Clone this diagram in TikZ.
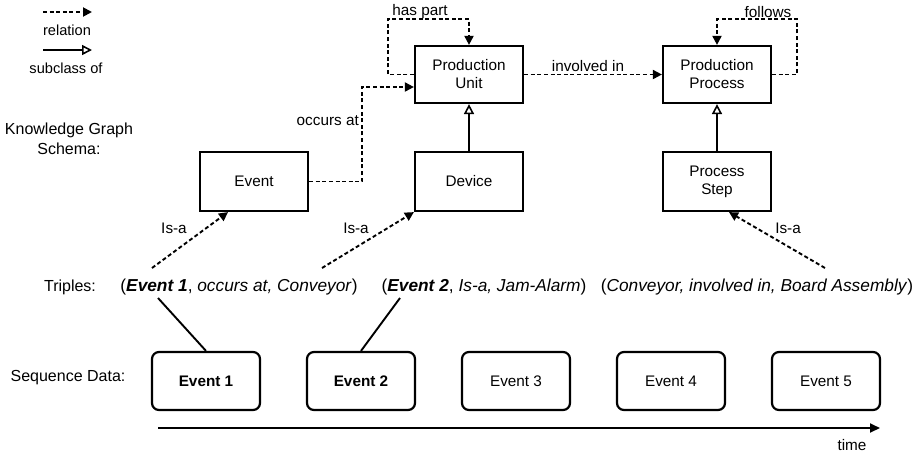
\documentclass[tikz,border=0pt]{standalone}
\usepackage{fontspec}
\setmainfont{Liberation Sans}
\usetikzlibrary{arrows.meta}
\begin{document}
\begin{tikzpicture}[x=1pt,y=-1pt,
  every node/.style={font=\fontsize{15.3}{18}\selectfont, inner sep=0pt},
  kbox/.style={draw, line width=2.2pt, minimum width=108pt, minimum height=57pt, align=center},
  sbox/.style={draw, line width=2.2pt, rounded corners=7pt, minimum width=108pt, minimum height=58pt},
  rel/.style={line width=1.9pt, dash pattern=on 4pt off 2.6pt, -{Triangle[length=9pt,width=9pt]}},
  sub/.style={line width=2pt, -{Triangle[open,length=10pt,width=10pt,line width=1.6pt]}},
  plain/.style={line width=1.9pt},
  leg/.style={font=\fontsize{14.6}{18}\selectfont},
  lbl/.style={font=\fontsize{15.3}{18}\selectfont},
  row/.style={font=\fontsize{16}{20}\selectfont},
  trip/.style={font=\fontsize{17.3}{20}\selectfont}
]
\useasboundingbox (0,0) rectangle (916,453);

% legend
\coordinate (l1a) at (43,12); \coordinate (l1b) at (92,12);
\coordinate (l2a) at (43,50); \coordinate (l2b) at (92,50);
\draw[rel] (l1a) -- (l1b);
\draw[sub] (l2a) -- (l2b);
\node[leg] (lrel) at (67,30) {relation};
\node[leg] (lsub) at (66,68) {subclass of};

% row labels
\node[row, align=center] (lkg) at (69,139) {Knowledge Graph\\Schema:};
\node[row] (ltr) at (70,287) {Triples:};
\node[row] (lsq) at (68,378) {Sequence Data:};

% schema boxes
\node[kbox] (pu) at (469,74.5) {Production\\Unit};
\node[kbox] (pp) at (717,74.5) {Production\\Process};
\node[kbox, minimum height=59pt] (ev) at (254,181.5) {Event};
\node[kbox, minimum height=59pt] (dev) at (469,181.5) {Device};
\node[kbox, minimum height=59pt] (ps) at (717,181.5) {Process\\Step};

% relations
\coordinate (hp) at (388,19);
\draw[rel] (pu.west) -| (hp) -| (pu.north);
\node[lbl] (lhp) at (420,12) {has part};
\coordinate (fl) at (797,19);
\draw[rel] (pp.east) -| (fl) -| (pp.north);
\node[lbl] (lfl) at (768,12) {follows};
\draw[rel] (pu.east) -- (pp.west);
\node[lbl] (lin) at (588,66) {involved in};
\coordinate (oc) at (362,87);
\draw[rel] (ev.east) -| (oc) -- ([yshift=-12.5pt]pu.west);
\node[lbl, anchor=east] (loc) at (359,121) {occurs at};

\draw[sub] (dev.north) -- (pu.south);
\draw[sub] (ps.north) -- (pp.south);

% triples
\node[trip] (t1) at (239,287) {(\textbf{\textit{Event 1}}, \textit{occurs at, Conveyor})};
\node[trip] (t2) at (484,287) {(\textbf{\textit{Event 2}}, \textit{Is-a, Jam-Alarm})};
\node[trip] (t3) at (757,287) {(\textit{Conveyor, involved in, Board Assembly})};

% is-a arrows
\coordinate (i1) at (152,268);
\coordinate (i2) at (322,268);
\coordinate (i3) at (825,268);
\draw[rel] (i1) -- ([xshift=-26pt]ev.south);
\draw[rel] (i2) -- (dev.south west);
\draw[rel] (i3) -- ([xshift=12pt]ps.south);
\node[lbl] (li1) at (174,228) {Is-a};
\node[lbl] (li2) at (356,228) {Is-a};
\node[lbl] (li3) at (788,228) {Is-a};

% sequence boxes
\node[sbox] (s1) at (206,381) {\textbf{Event 1}};
\node[sbox] (s2) at (361,381) {\textbf{Event 2}};
\node[sbox] (s3) at (516,381) {Event 3};
\node[sbox] (s4) at (671,381) {Event 4};
\node[sbox] (s5) at (826,381) {Event 5};

\coordinate (c1) at (158,298);
\coordinate (c2) at (400,298);
\draw[plain] (c1) -- (s1.north);
\draw[plain] (c2) -- (s2.north);

% time axis
\coordinate (ta) at (158,428);
\coordinate (tb) at (880,428);
\draw[line width=1.9pt, -{Triangle[length=10pt,width=9pt]}] (ta) -- (tb);
\node[lbl] (ltime) at (852,445) {time};
\end{tikzpicture}
\end{document}
